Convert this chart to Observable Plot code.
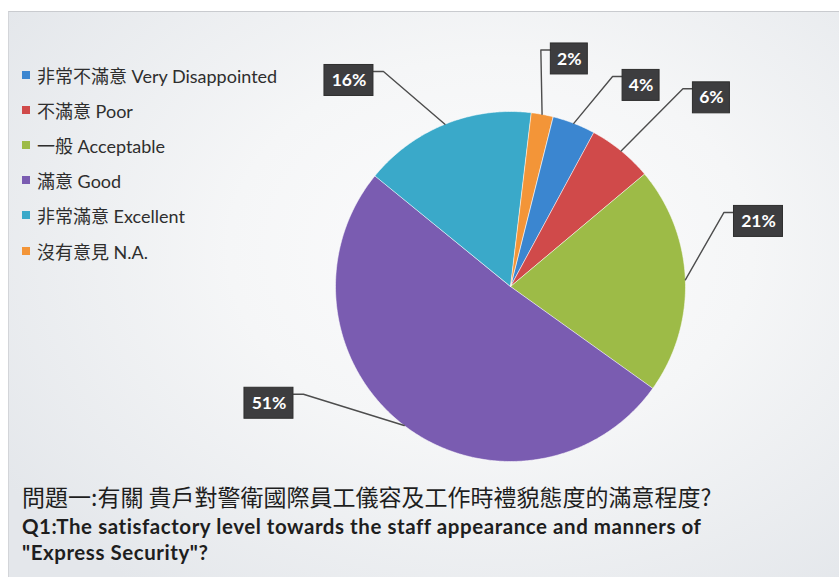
<!DOCTYPE html>
<html>
<head>
<meta charset="utf-8">
<script src="https://cdn.jsdelivr.net/npm/d3@7"></script>
<script src="https://cdn.jsdelivr.net/npm/@observablehq/plot@0.6"></script>
<style>
  html, body { margin: 0; padding: 0; background: #ffffff; }
  #page { position: relative; width: 839px; height: 577px; overflow: hidden; background: #ffffff; }
  #slide { position: absolute; left: 8px; top: 11px; right: 0; bottom: 0;
    border-top: 1px solid #c9cbcf; border-left: 1px solid #d3d5d9;
    background: radial-gradient(ellipse 70% 75% at 58% 42%, #fcfcfd 0%, #f5f6f7 45%, #e4e7eb 100%); }
  #chart { position: absolute; left: 0; top: 0; }
  #chart svg g[aria-label="label-box"] rect { filter: drop-shadow(2px 2px 1.5px rgba(0,0,0,0.45)); }
  #legend { position: absolute; left: 22px; top: 57px; font-family: "Lato", "Noto Sans CJK TC", sans-serif; font-size: 18px; color: #2e2e2e; }
  #legend .row { height: 35.2px; display: flex; align-items: center; white-space: nowrap; }
  #legend .sw { width: 8px; height: 8px; margin-right: 7px; flex: none; }
  #title { position: absolute; left: 22px; top: 479px; color: #1e1e1e; white-space: nowrap; }
  #title .zh { font-family: "Noto Sans CJK TC", sans-serif; font-size: 23px; line-height: 34px; }
  #title .en { font-family: "Lato", "Open Sans", sans-serif; font-weight: bold; font-size: 20.5px; letter-spacing: 0.55px; line-height: 26px; }
</style>
</head>
<body>
<div id="page">
  <div id="slide"></div>
  <div id="chart"></div>
  <div id="legend"></div>
  <div id="title"></div>
</div>
<script>
// ---- data ----
const categories = ["非常不滿意 Very Disappointed", "不滿意 Poor", "一般 Acceptable", "滿意 Good", "非常滿意 Excellent", "沒有意見 N.A."];
const percents = [4, 6, 21, 51, 16, 2];
const percentLabels = ["4%", "6%", "21%", "51%", "16%", "2%"];
const sliceColors = ["#3b86d0", "#d04a4a", "#9dbb47", "#7a5cb1", "#3aa9c9", "#f39538"];
const titleZh = "問題一:有關 貴戶對警衛國際員工儀容及工作時禮貌態度的滿意程度?";
const titleEn1 = "Q1:The satisfactory level towards the staff appearance and manners of";
const titleEn2 = "\"Express Security\"?";

// ---- layout ----
const W = 839, H = 577;
const CX = 510, CY = 286, R = 175;        // pie centre and radius (px)
const startDeg = 14;                       // first slice starts 14° clockwise from 12 o'clock
// label box centres: angle (deg, clockwise from top) and distance (in radii)
const labelAngle = [33, 46.8, 75.3, 244.2, 321.9, 14.5];
const labelDist = [1.37, 1.575, 1.465, 1.533, 1.496, 1.343];

const px = v => v / R;  // pixels -> radius units

const pie = d3.pie().sort(null).value(d => d)
  .startAngle(startDeg * Math.PI / 180)
  .endAngle(startDeg * Math.PI / 180 + 2 * Math.PI)(percents);

// slice polygons
const slicePts = [];
pie.forEach((p, i) => {
  const cat = categories[i];
  slicePts.push({cat, x: 0, y: 0});
  const n = Math.max(4, Math.ceil((p.endAngle - p.startAngle) / (Math.PI / 360)));
  for (let k = 0; k <= n; k++) {
    const a = p.startAngle + (p.endAngle - p.startAngle) * k / n;
    slicePts.push({cat, x: Math.sin(a), y: Math.cos(a)});
  }
});

// label boxes and leader lines
const boxH = px(31), attach = px(6.5), elbow = px(10);
const boxes = [], leaders = [];
pie.forEach((p, i) => {
  const la = labelAngle[i] * Math.PI / 180;
  const cx = labelDist[i] * Math.sin(la), cy = labelDist[i] * Math.cos(la);
  const w = px(12 * percentLabels[i].length + 13);
  const b = {cat: categories[i], label: percentLabels[i], cx, cy,
    x1: cx - w / 2, x2: cx + w / 2, y1: cy - boxH / 2, y2: cy + boxH / 2};
  boxes.push(b);
  const mid = (p.startAngle + p.endAngle) / 2;
  const ax = Math.sin(mid), ay = Math.cos(mid);
  const right = cx > 0;
  const ex = right ? b.x1 : b.x2;
  const ey = b.y2 - attach;
  leaders.push({cat: categories[i], x: ax, y: ay});
  leaders.push({cat: categories[i], x: right ? ex - elbow : ex + elbow, y: ey});
  leaders.push({cat: categories[i], x: ex, y: ey});
});

const chart = Plot.plot({
  width: W, height: H, margin: 0,
  x: {domain: [px(-CX), px(W - CX)], axis: null},
  y: {domain: [px(-(H - CY)), px(CY)], axis: null},
  color: {domain: categories, range: sliceColors},
  style: {background: "transparent", overflow: "visible"},
  marks: [
    Plot.line(slicePts, {x: "x", y: "y", z: "cat", fill: "cat", stroke: "#ffffff", strokeWidth: 0.8, strokeOpacity: 0.7, curve: "linear-closed"}),
    Plot.line(leaders, {x: "x", y: "y", z: "cat", stroke: "#4d4d4d", strokeWidth: 1.4}),
    Plot.rect(boxes, {x1: "x1", x2: "x2", y1: "y1", y2: "y2", fill: "#3d3d3f", stroke: "#2e2e2e", strokeWidth: 1, ariaLabel: "label-box"}),
    Plot.text(boxes, {x: "cx", y: "cy", text: "label", fill: "#ffffff", fontSize: 17.5, fontWeight: "bold", fontFamily: "Lato, 'Open Sans', sans-serif"})
  ]
});
document.getElementById("chart").appendChild(chart);

// legend
const legend = document.getElementById("legend");
categories.forEach((c, i) => {
  const row = document.createElement("div");
  row.className = "row";
  const sw = document.createElement("span");
  sw.className = "sw";
  sw.style.background = sliceColors[i];
  const t = document.createElement("span");
  t.textContent = c;
  row.appendChild(sw); row.appendChild(t);
  legend.appendChild(row);
});

// titles
const title = document.getElementById("title");
[[titleZh, "zh"], [titleEn1, "en"], [titleEn2, "en"]].forEach(([t, cls]) => {
  const d = document.createElement("div");
  d.className = cls; d.textContent = t;
  title.appendChild(d);
});
</script>
</body>
</html>
